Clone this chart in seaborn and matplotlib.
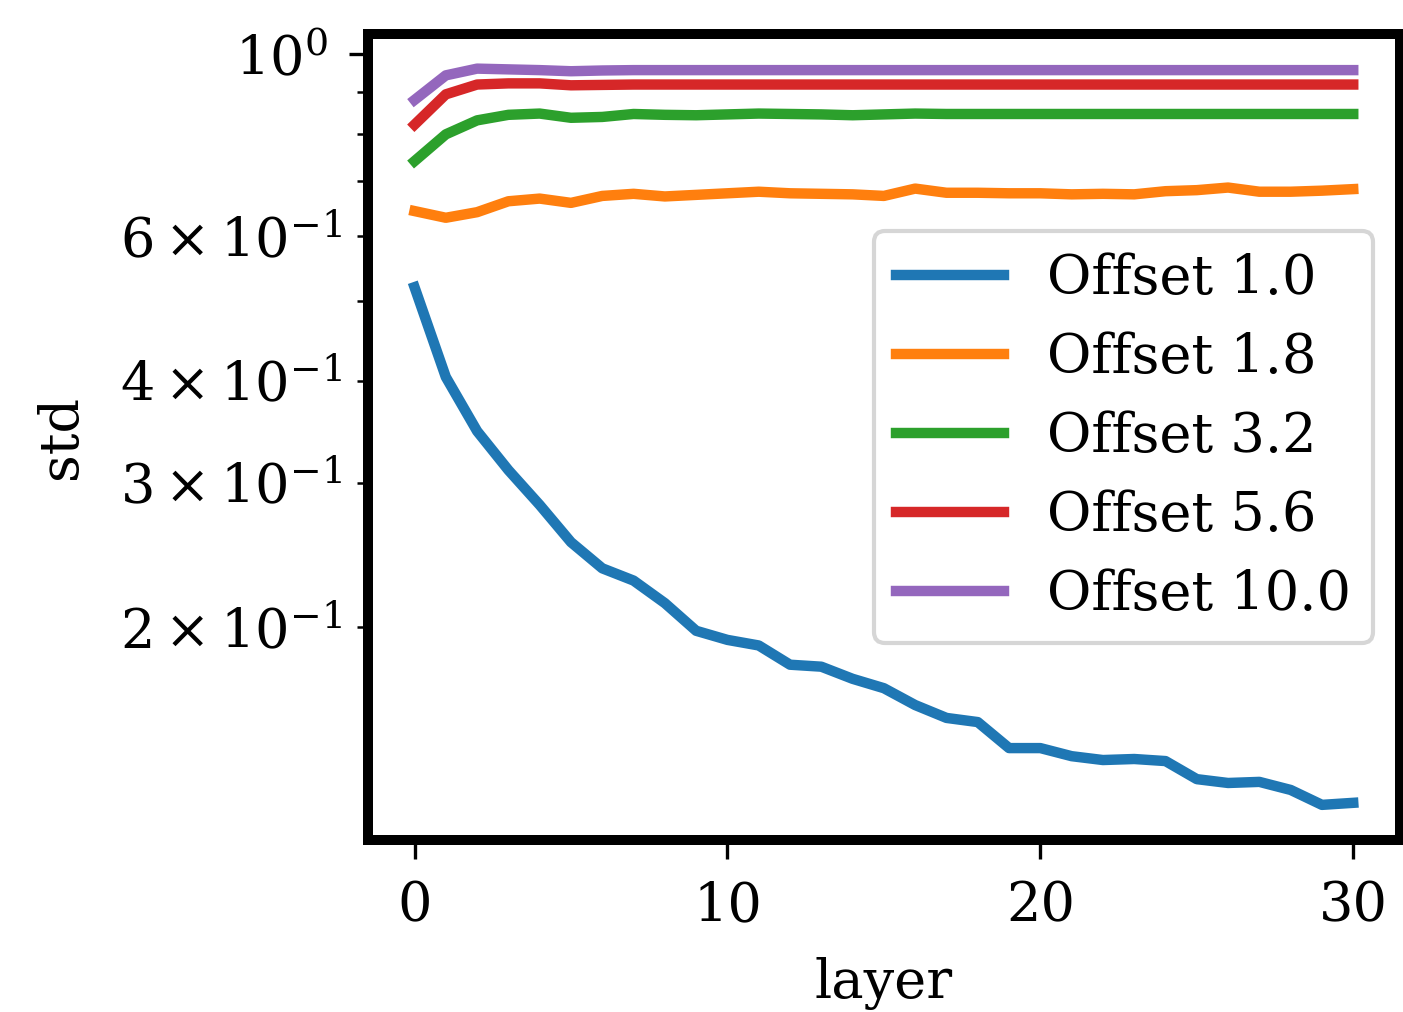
import numpy as np
import pandas as pd
import matplotlib
matplotlib.use('Agg')
import matplotlib.pyplot as plt
import seaborn as sns

plt.rcParams['font.family'] = ['DejaVu Serif']
plt.rcParams['mathtext.fontset'] = 'dejavuserif'
plt.rcParams['font.size'] = 13

# データ
layers = list(range(31))
offsets = ['Offset 1.0', 'Offset 1.8', 'Offset 3.2', 'Offset 5.6', 'Offset 10.0']

std_1_0 = [0.520, 0.404, 0.347, 0.311, 0.282, 0.254, 0.236, 0.228, 0.214, 0.198,
           0.193, 0.190, 0.180, 0.179, 0.173, 0.1685, 0.1607, 0.155, 0.1532, 0.1424,
           0.1424, 0.1392, 0.1377, 0.1381, 0.1373, 0.1305, 0.1291, 0.1295, 0.1266, 0.1214,
           0.1221]
std_1_8 = [0.644, 0.632, 0.642, 0.662, 0.667, 0.659, 0.672, 0.676, 0.671, 0.674,
           0.677, 0.680, 0.677, 0.676, 0.675, 0.672, 0.686, 0.678, 0.678, 0.677,
           0.677, 0.675, 0.676, 0.675, 0.681, 0.683, 0.688, 0.680, 0.680, 0.682,
           0.685]
std_3_2 = [0.741, 0.799, 0.831, 0.844, 0.847, 0.837, 0.839, 0.846, 0.844, 0.843,
           0.845, 0.847, 0.846, 0.845, 0.843, 0.845, 0.847, 0.846, 0.846, 0.846,
           0.846, 0.846, 0.846, 0.846, 0.846, 0.846, 0.846, 0.846, 0.846, 0.846,
           0.846]
std_5_6 = [0.821, 0.894, 0.919, 0.922, 0.922, 0.917, 0.918, 0.919, 0.919, 0.919,
           0.919, 0.919, 0.919, 0.919, 0.919, 0.919, 0.919, 0.919, 0.919, 0.919,
           0.919, 0.919, 0.919, 0.919, 0.919, 0.919, 0.919, 0.919, 0.919, 0.919,
           0.919]
std_10_0 = [0.880, 0.943, 0.961, 0.959, 0.957, 0.954, 0.956, 0.957, 0.957, 0.957,
            0.957, 0.957, 0.957, 0.957, 0.957, 0.957, 0.957, 0.957, 0.957, 0.957,
            0.957, 0.957, 0.957, 0.957, 0.957, 0.957, 0.957, 0.957, 0.957, 0.957,
            0.957]

all_std = [std_1_0, std_1_8, std_3_2, std_5_6, std_10_0]
df = pd.DataFrame({
    'layer': layers * len(offsets),
    'std': sum(all_std, []),
    'offset': [o for o in offsets for _ in layers],
})

fig, ax = plt.subplots(figsize=(1403 / 300, 1012 / 300))
fig.subplots_adjust(left=0.262, right=0.998, top=0.966, bottom=0.170)

palette = sns.color_palette('tab10', len(offsets))
for i, name in enumerate(offsets):
    sub = df[df['offset'] == name]
    sns.lineplot(data=sub, x='layer', y='std', color=palette[i], linewidth=2.5,
                 solid_capstyle='projecting', label=name, ax=ax)

ax.set_yscale('log')
ax.set_ylim(0.110, 1.058)
ax.set_xlim(-1.5, 31.5)
ax.set_xticks([0, 10, 20, 30])
ax.set_xlabel('layer', labelpad=6)
ax.set_ylabel('std', labelpad=8)
for sp in ax.spines.values():
    sp.set_linewidth(2.4)
    sp.set_color('black')
ax.tick_params(which='major', length=4.6, pad=5)
ax.tick_params(which='minor', length=2.6)
ax.legend(loc='center right', fontsize=13)

plt.savefig('out.png', dpi=300)
plt.close()
